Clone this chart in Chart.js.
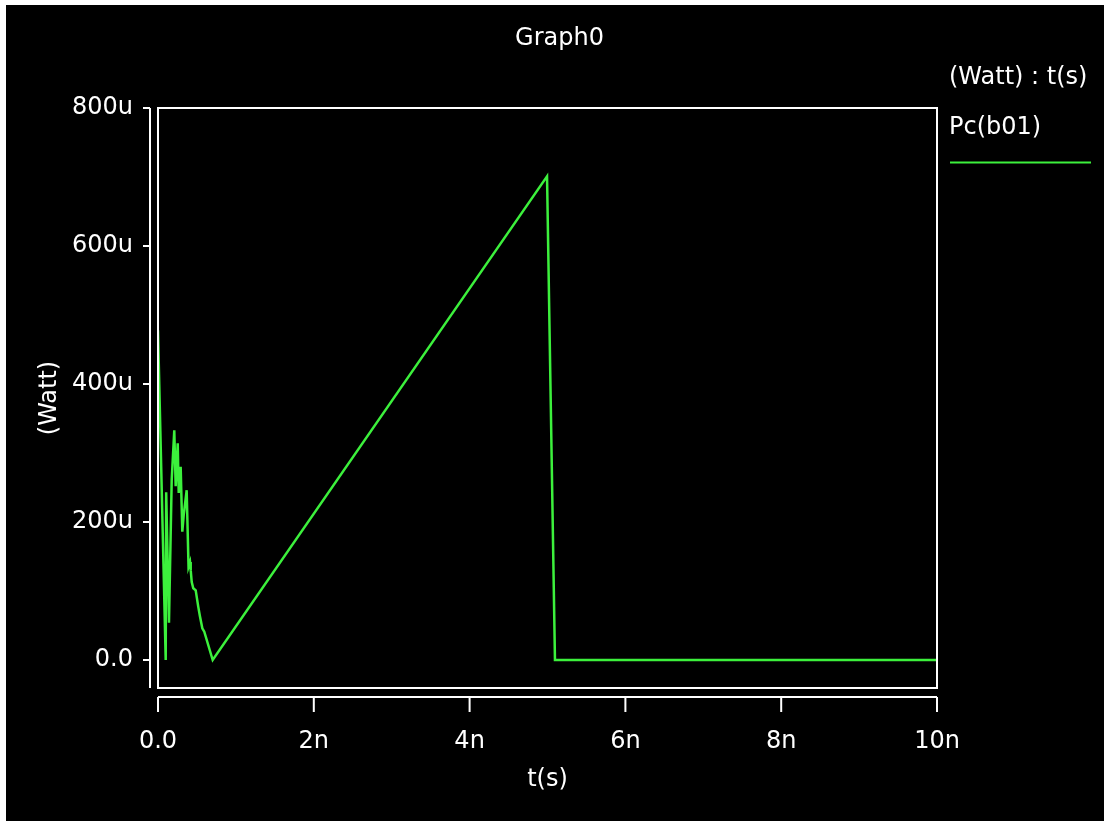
<!DOCTYPE html>
<html>
<head>
<meta charset="utf-8">
<title>Graph0</title>
<script src="https://cdn.jsdelivr.net/npm/chart.js@4.4.1/dist/chart.umd.min.js"></script>
<style>
  html, body { margin: 0; padding: 0; background: #000; overflow: hidden; }
  #chart { position: absolute; left: 6px; top: 5px; background: #000; }
  .edge { position: fixed; left: 0; top: 0; background: #fff; }
</style>
</head>
<body>
<div class="edge" style="width: 6px; height: 100%;"></div>
<div class="edge" style="width: 100%; height: 5px;"></div>
<canvas id="chart" width="1098" height="816"></canvas>
<script>
// Pc(b01) transient: time in ns, power in uW
const timeNs = [0, 0.099, 0.105, 0.141, 0.176, 0.209, 0.227, 0.253, 0.266, 0.291, 0.312, 0.33, 0.368,
  0.392, 0.411, 0.42, 0.433, 0.453, 0.484, 0.517, 0.539, 0.569, 0.594, 0.702, 4.994, 5.096, 10];
const powerUW = [478, 0, 243, 54, 261, 333, 252, 314, 242, 280, 186, 210, 246,
  135, 142, 130, 113, 104, 101, 77, 63, 46, 41, 0, 701, 0, 0];

const xTicks = [0, 2, 4, 6, 8, 10];
const xTickLabels = ['0.0', '2n', '4n', '6n', '8n', '10n'];
const yTicks = [0, 200, 400, 600, 800];
const yTickLabels = ['0.0', '200u', '400u', '600u', '800u'];
const yMin = -40.6;
const yMax = 800;

const green = '#3cf03c';
const font = { family: 'DejaVu Sans', size: 24 };

// plot box, detached axes, title and legend block
const frame = {
  id: 'frame',
  afterDraw(chart) {
    const { ctx, chartArea: a, scales: { x, y } } = chart;
    ctx.save();
    ctx.strokeStyle = '#fff';
    ctx.lineWidth = 2;
    ctx.strokeRect(a.left, a.top, a.right - a.left, a.bottom - a.top);

    ctx.beginPath();
    const ax = a.left - 8;
    ctx.moveTo(ax, a.top);
    ctx.lineTo(ax, a.bottom);
    yTicks.forEach(v => {
      const py = y.getPixelForValue(v);
      ctx.moveTo(ax, py);
      ctx.lineTo(ax - 7, py);
    });
    const by = a.bottom + 9;
    ctx.moveTo(a.left, by);
    ctx.lineTo(a.right, by);
    xTicks.forEach(v => {
      const px = x.getPixelForValue(v);
      ctx.moveTo(px, by);
      ctx.lineTo(px, by + 15);
    });
    ctx.stroke();

    ctx.fillStyle = '#fff';
    ctx.font = font.size + 'px "' + font.family + '"';
    ctx.textBaseline = 'middle';
    ctx.textAlign = 'center';
    ctx.fillText('Graph0', 553.5, 34);
    ctx.textAlign = 'left';
    ctx.fillText('(Watt) : t(s)', 943, 73);
    ctx.fillText(chart.data.datasets[0].label, 943, 123);
    ctx.strokeStyle = green;
    ctx.beginPath();
    ctx.moveTo(944, 157.5);
    ctx.lineTo(1085, 157.5);
    ctx.stroke();
    ctx.restore();
  }
};

new Chart(document.getElementById('chart'), {
  type: 'line',
  data: {
    datasets: [{
      label: 'Pc(b01)',
      data: timeNs.map((t, i) => ({ x: t, y: powerUW[i] })),
      borderColor: green,
      borderWidth: 2.5,
      pointRadius: 0,
      tension: 0,
      fill: false
    }]
  },
  options: {
    responsive: false,
    animation: false,
    layout: { padding: { left: 0, top: 103, right: 167, bottom: 23 } },
    plugins: { legend: { display: false }, tooltip: { enabled: false } },
    scales: {
      x: {
        type: 'linear',
        min: 0,
        max: 10,
        afterBuildTicks: s => { s.ticks = xTicks.map(v => ({ value: v })); },
        afterFit: s => { s.height = 110; },
        grid: { display: false, drawTicks: false },
        border: { display: false },
        ticks: {
          color: '#fff', font, padding: 39, maxRotation: 0, autoSkip: false,
          callback: (v, i) => xTickLabels[i]
        },
        title: { display: true, text: 't(s)', color: '#fff', font, padding: { top: 0, bottom: 4 } }
      },
      y: {
        type: 'linear',
        min: yMin,
        max: yMax,
        afterBuildTicks: s => { s.ticks = yTicks.map(v => ({ value: v })); },
        afterFit: s => { s.width = 152; },
        grid: { display: false, drawTicks: false },
        border: { display: false },
        ticks: {
          color: '#fff', font, padding: 25, autoSkip: false,
          callback: (v, i) => yTickLabels[i]
        },
        title: { display: true, text: '(Watt)', color: '#fff', font, padding: { top: 29, bottom: 0 } }
      }
    }
  },
  plugins: [frame]
});
</script>
</body>
</html>
